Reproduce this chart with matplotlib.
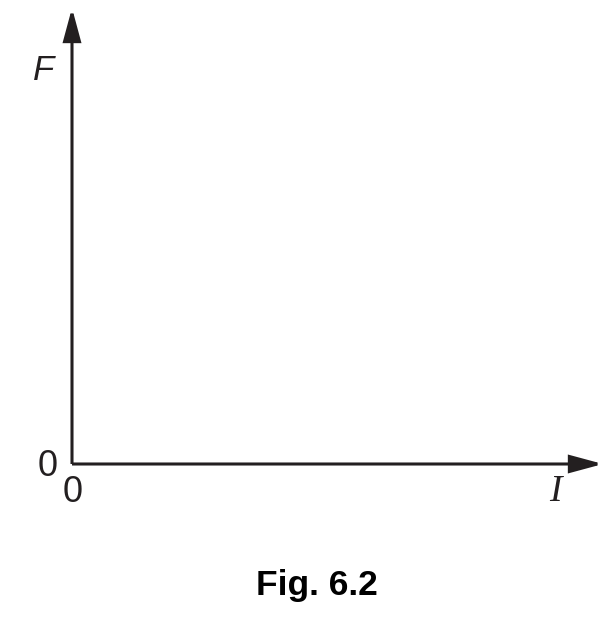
import matplotlib
matplotlib.use("Agg")
from matplotlib import pyplot as plt
from matplotlib.patches import FancyArrowPatch

# axis labels and the single tick value shown on each axis
x_label = "I"
y_label = "F"
x_ticks = [0]
y_ticks = [0]
caption = "Fig. 6.2"

W, H = 612, 618
ink = "#231f20"

plt.rcParams["font.family"] = ["Liberation Sans", "DejaVu Sans"]

fig = plt.figure(figsize=(W / 100, H / 100), dpi=100)

# axes box: origin at (72, 464) px, x arrow tip at 603, y arrow tip at 8
x0, y0, x1, y1 = 72, 464, 603, 8
ax = fig.add_axes([x0 / W, 1 - y0 / H, (x1 - x0) / W, (y0 - y1) / H])
ax.set_xlim(0, 1)
ax.set_ylim(0, 1)
ax.axis("off")

for end in [(1, 0), (0, 1)]:
    arr = FancyArrowPatch((0, 0), end, transform=ax.transAxes,
                          arrowstyle="-|>,head_length=20,head_width=5.4",
                          mutation_scale=1, lw=2.2, color=ink,
                          shrinkA=0, shrinkB=0, clip_on=False,
                          joinstyle="miter", capstyle="butt")
    ax.add_patch(arr)


def px(x, y):
    return x / W, 1 - y / H


fig.text(*px(44, 71), y_label, fontsize=25, style="italic", color=ink,
         ha="center", va="center")
fig.text(*px(48, 467), str(y_ticks[0]), fontsize=26, color=ink,
         ha="center", va="center")
fig.text(*px(72.5, 493), str(x_ticks[0]), fontsize=26, color=ink,
         ha="center", va="center")
fig.text(*px(555, 492), x_label, fontsize=27, style="italic", color=ink,
         family=["Liberation Serif", "DejaVu Serif"], ha="center", va="center")
fig.text(*px(317, 585), caption, fontsize=25.5, weight="bold", color="black",
         ha="center", va="center")

fig.savefig("out.png", dpi=100)
